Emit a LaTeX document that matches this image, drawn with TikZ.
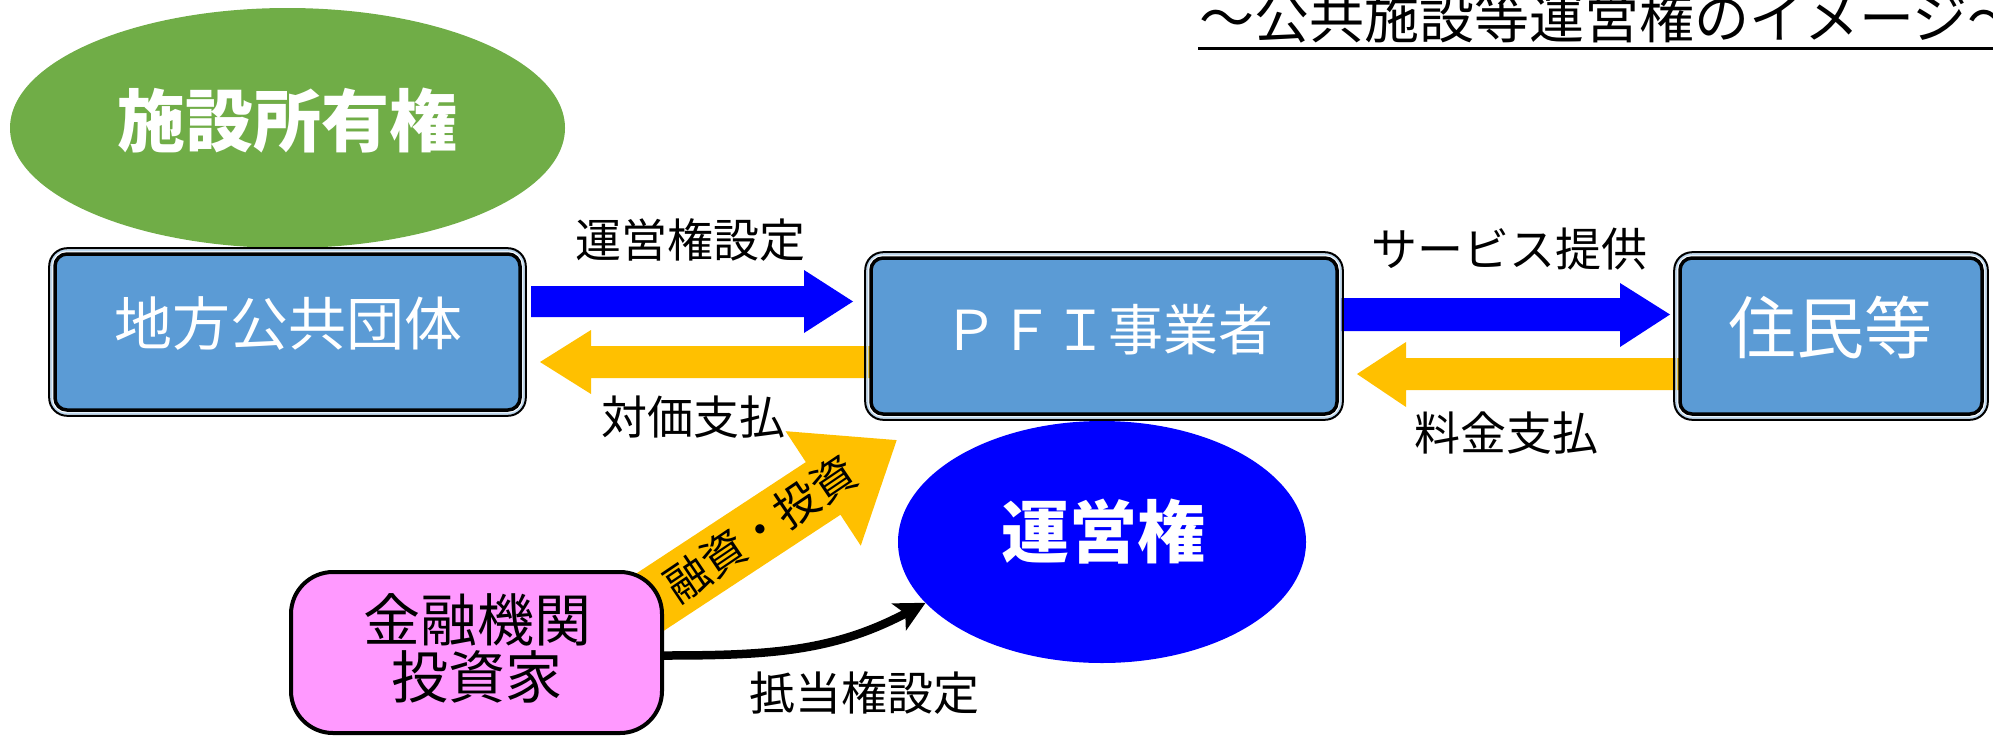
\documentclass[tikz,border=0pt]{standalone}
\usepackage{fontspec}
\newfontfamily\jp{Noto Sans CJK JP}
\usetikzlibrary{arrows.meta,shapes.geometric,calc}
\pgfdeclarelayer{bg}
\pgfsetlayers{bg,main}
\definecolor{boxblue}{HTML}{5B9BD5}
\definecolor{ringblue}{HTML}{BDD7EE}
\definecolor{ygold}{HTML}{FFC000}
\definecolor{pureblue}{HTML}{0000FF}
\definecolor{leaf}{HTML}{70AD47}
\definecolor{pinkbox}{HTML}{FF99FF}
\newcommand\jpsize[1]{\jp\fontsize{#1}{#1}\selectfont}
\begin{document}
\begin{tikzpicture}[x=1pt,y=-1pt,
  every node/.style={inner sep=0pt, outer sep=0pt},
  bluebox/.style={draw=black, line width=3.5pt, fill=boxblue, rounded corners=12pt,
    minimum height=156pt},
  outerframe/.style={draw=black, line width=2pt, rounded corners=18pt},
  ringframe/.style={draw=ringblue, line width=2pt, rounded corners=15pt},
  boxtext/.style={text=white},
  lbl/.style={font=\jpsize{46}, text=black},
  pinkstyle/.style={draw=black, line width=4pt, fill=pinkbox, rounded corners=42pt,
    minimum width=371pt, minimum height=161pt},
  curvearrow/.style={draw=black, line width=8.5pt,
    -{Stealth[length=30pt,width=30pt,inset=7pt]}}
]
\useasboundingbox (0,0) rectangle (1993,737);

% title
\node[anchor=west, font=\jpsize{55}] (title) at (1199,18) {～公共施設等運営権のイメージ～};
\draw[line width=3pt] (1198,48) -- (1993,48);

% green ellipse
\node[ellipse, fill=leaf, minimum width=555pt, minimum height=240pt] (own) at (287.5,128) {};
\node[font=\jpsize{68}\bfseries, text=white] (ownt) at (287,121) {施設所有権};

% blue ellipse
\node[ellipse, fill=pureblue, minimum width=408pt, minimum height=242pt] (ue) at (1102,542) {};
\node[font=\jpsize{68}\bfseries, text=white] (uet) at (1103,532) {運営権};

% boxes
\node[bluebox, minimum width=465pt] (lg) at (287.5,332) {};
\node[bluebox, minimum width=466pt] (pfi) at (1104,336) {};
\node[bluebox, minimum width=302pt] (jm) at (1831,336) {};
\foreach \n in {lg,pfi,jm}{
  \draw[ringframe] ($(\n.north west)+(-3.7,-3.7)$) rectangle ($(\n.south east)+(3.7,3.7)$);
  \draw[outerframe] ($(\n.north west)+(-5.8,-5.8)$) rectangle ($(\n.south east)+(5.8,5.8)$);
}
\node[boxtext, font=\jpsize{58}] (lgt) at (288,324) {地方公共団体};
\node[boxtext, font=\jpsize{55}] (pfit) at (1108,330) {ＰＦＩ事業者};
\node[boxtext, font=\jpsize{68}] (jmt) at (1830,327) {住民等};

% block arrows (background layer)
\begin{pgfonlayer}{bg}
  % 運営権設定
  \fill[pureblue] ($(lg.east)+(11,-15.5-30.5)$) -- (804,286) -- (804,270) -- (853,301.5)
     -- (804,333) -- (804,317) -- ($(lg.east)+(11,-15)$) -- cycle;
  % 対価支払
  \fill[ygold] ($(pfi.west)+(0,10)$) -- (591,346) -- (591,330) -- (540,362)
     -- (591,394) -- (591,378) -- ($(pfi.west)+(0,42)$) -- cycle;
  % サービス提供
  \fill[pureblue] ($(pfi.east)+(4,-38)$) -- (1620,298) -- (1620,283) -- (1670,314.5)
     -- (1620,347) -- (1620,331) -- ($(pfi.east)+(4,-5)$) -- cycle;
  % 料金支払
  \fill[ygold] ($(jm.west)+(6,22)$) -- (1406,358) -- (1406,342) -- (1357,374)
     -- (1406,407) -- (1406,390) -- ($(jm.west)+(6,54)$) -- cycle;
  % 融資・投資
  \begin{scope}[shift={(600,635)}, rotate=33.3]
    \fill[ygold] (0,-31.5) -- (267,-31.5) -- (267,-68.5) -- (355,0) -- (267,68.5)
      -- (267,31.5) -- (0,31.5) -- cycle;
  \end{scope}
\end{pgfonlayer}
\node[font=\jpsize{44}, rotate=34] (yt) at (760,529) {融資・投資};

% labels
\node[lbl] (l1) at (690,240) {運営権設定};
\node[lbl] (l2) at (693,417) {対価支払};
\node[lbl] (l3) at (1509,249) {サービス提供};
\node[lbl] (l4) at (1506,433) {料金支払};
\node[lbl] (l5) at (864,693) {抵当権設定};

% pink box
\node[pinkstyle] (fin) at (476.5,652.5) {};
\node[font=\jpsize{57}, align=center, text=black] (fint) at (477,648)
  {\fontsize{57}{71}\selectfont 金融機関\\投資家};

% mortgage arrow
\draw[curvearrow] ($(fin.east)+(0,3)$) to[out=0, in=208] (ue.199);
\end{tikzpicture}
\end{document}
